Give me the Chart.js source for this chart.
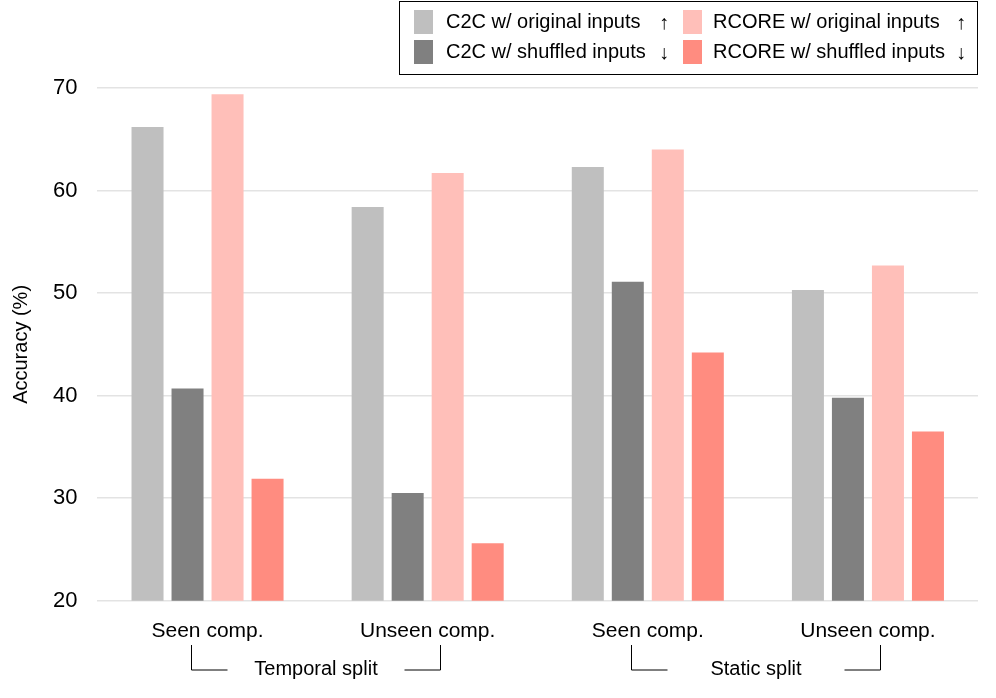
<!DOCTYPE html>
<html>
<head>
<meta charset="utf-8">
<script src="https://cdn.jsdelivr.net/npm/chart.js@4.4.1/dist/chart.umd.min.js"></script>
<style>
  body { margin: 0; background: #fff; }
  #wrap { width: 996px; height: 698px; }
</style>
</head>
<body>
<div id="wrap"><canvas id="accChart" width="996" height="698"></canvas></div>
<script>
const categories = ['Seen comp.', 'Unseen comp.', 'Seen comp.', 'Unseen comp.'];
const splitLabels = ['Temporal split', 'Static split'];
const seriesNames = ['C2C w/ original inputs', 'C2C w/ shuffled inputs', 'RCORE w/ original inputs', 'RCORE w/ shuffled inputs'];
const seriesArrows = ['↑', '↓', '↑', '↓'];
const c2cOriginal = [66.2, 58.4, 62.3, 50.3];
const c2cShuffled = [40.7, 30.5, 51.1, 39.8];
const rcoreOriginal = [69.4, 61.7, 64.0, 52.7];
const rcoreShuffled = [31.9, 25.6, 44.2, 36.5];
const yTicks = [20, 30, 40, 50, 60, 70];
const colors = ['#bfbfbf', '#808080', '#ffbfb9', '#ff8c80'];

const FONT = 'Liberation Sans, Arial, sans-serif';

// legend box + split brackets drawn by hand
const extras = {
    id: 'extras',
    afterDraw(chart) {
        const c = chart.ctx;
        const x = chart.scales.x;
        c.save();

        // legend
        c.strokeStyle = '#000';
        c.lineWidth = 1;
        c.strokeRect(399.5, 1.5, 578, 73);
        c.font = '20px ' + FONT;
        c.textBaseline = 'middle';
        const swatchX = [414, 683];
        const textX = [446, 713];
        const arrowX = [664, 961];
        const rows = [22, 52];
        for (let i = 0; i < 4; i++) {
            const col = i < 2 ? 0 : 1;
            const row = i % 2;
            c.fillStyle = colors[i];
            c.fillRect(swatchX[col], rows[row] - 12, 19, 24);
            c.fillStyle = '#000';
            c.textAlign = 'left';
            c.fillText(seriesNames[i], textX[col], rows[row]);
            c.textAlign = 'center';
            c.fillText(seriesArrows[i], arrowX[col], rows[row] + 1);
        }

        // brackets under categories
        c.strokeStyle = '#000';
        c.lineWidth = 1;
        c.font = '20px ' + FONT;
        c.textAlign = 'center';
        const top = 645, base = 670;
        for (let s = 0; s < splitLabels.length; s++) {
            const l = Math.round(x.getPixelForValue(s * 2)) - 16.5;
            const r = Math.round(x.getPixelForValue(s * 2 + 1)) + 12.5;
            const mid = (l + r) / 2;
            c.beginPath();
            c.moveTo(l, top);
            c.lineTo(l, base);
            c.lineTo(l + 36, base);
            c.moveTo(r, top);
            c.lineTo(r, base);
            c.lineTo(r - 36, base);
            c.stroke();
            c.fillText(splitLabels[s], mid, 669);
        }
        c.restore();
    }
};

const ctx = document.getElementById('accChart').getContext('2d');
const accChart = new Chart(ctx, {
    type: 'bar',
    data: {
        labels: categories,
        datasets: [
            { label: seriesNames[0], data: c2cOriginal, backgroundColor: colors[0] },
            { label: seriesNames[1], data: c2cShuffled, backgroundColor: colors[1] },
            { label: seriesNames[2], data: rcoreOriginal, backgroundColor: colors[2] },
            { label: seriesNames[3], data: rcoreShuffled, backgroundColor: colors[3] }
        ]
    },
    options: {
        responsive: false,
        animation: false,
        datasets: {
            bar: { categoryPercentage: 0.727, barPercentage: 0.8 }
        },
        layout: {
            padding: { top: 88, right: 18, bottom: 44, left: 9 }
        },
        plugins: {
            legend: { display: false },
            tooltip: { enabled: false }
        },
        scales: {
            x: {
                grid: { display: false },
                border: { display: false },
                ticks: { color: '#000', font: { family: FONT, size: 21 }, padding: 10 }
            },
            y: {
                min: 20,
                max: 70,
                afterBuildTicks(axis) {
                    axis.ticks = yTicks.map(v => ({ value: v }));
                },
                grid: { color: '#e3e3e3', lineWidth: 1.5, drawTicks: false },
                border: { display: false },
                ticks: { color: '#000', font: { family: FONT, size: 22 }, padding: 20 },
                title: {
                    display: true,
                    text: 'Accuracy (%)',
                    color: '#000',
                    font: { family: FONT, size: 20 },
                    padding: { top: 0, bottom: 0 }
                }
            }
        }
    },
    plugins: [extras]
});
</script>
</body>
</html>
